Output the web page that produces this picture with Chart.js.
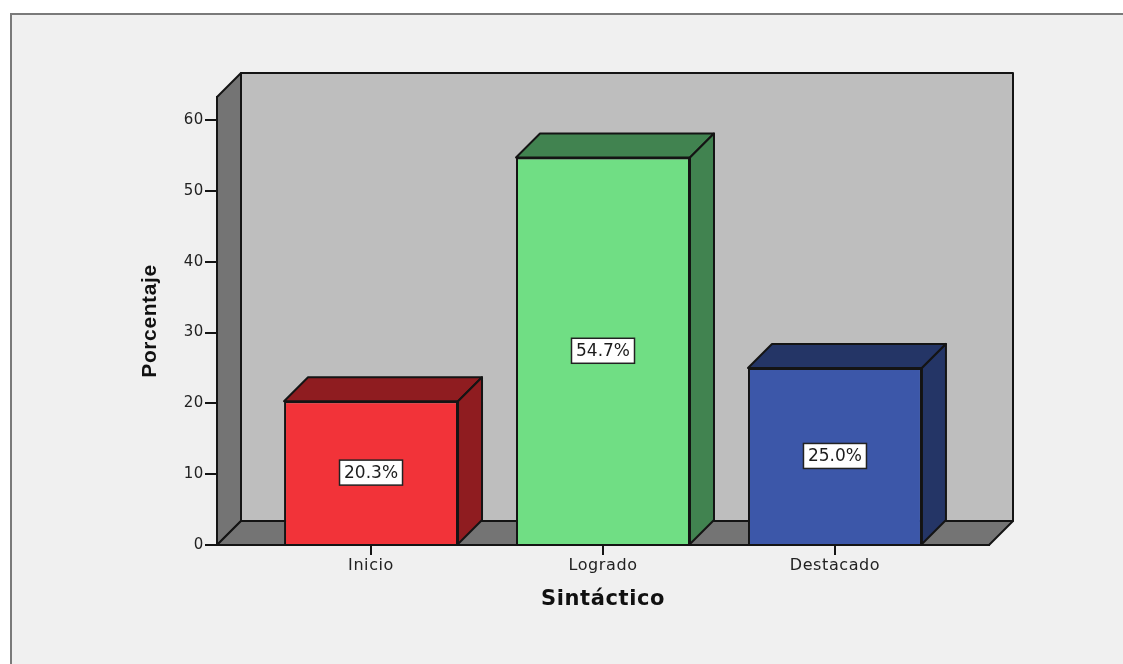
<!DOCTYPE html>
<html>
<head>
<meta charset="utf-8">
<title>Sintáctico</title>
<script src="https://cdn.jsdelivr.net/npm/chart.js@4"></script>
<style>
    html, body { margin: 0; padding: 0; background: #fff; overflow: hidden; }
    #wrap { position: relative; width: 1123px; height: 664px; }
    #frame { position: absolute; left: 10px; top: 13px; right: 0; bottom: 0; background: #f0f0f0; border-top: 2px solid #7a7a7a; border-left: 2px solid #7a7a7a; }
    canvas { position: absolute; left: 0; top: 0; }
</style>
</head>
<body>
<div id="wrap">
    <div id="frame"></div>
    <canvas id="chart" width="1123" height="664"></canvas>
</div>
<script>
var categorias = ['Inicio', 'Logrado', 'Destacado'];
var porcentajes = [20.3, 54.7, 25.0];
var yTicks = [0, 10, 20, 30, 40, 50, 60];

var frontColors = ['#f23339', '#70de84', '#3c57a9'];
var sideColors = ['#8f1c20', '#418350', '#243566'];
var depth = 24;
var inkColor = '#141414';

function poly(ctx, pts, fill) {
    ctx.beginPath();
    ctx.moveTo(pts[0][0], pts[0][1]);
    for (var i = 1; i < pts.length; i++) ctx.lineTo(pts[i][0], pts[i][1]);
    ctx.closePath();
    ctx.fillStyle = fill;
    ctx.fill();
    ctx.strokeStyle = inkColor;
    ctx.lineWidth = 2;
    ctx.lineJoin = 'round';
    ctx.stroke();
}

// widen text a little, the reference glyphs are stretched
function setSpacing(chart) {
    chart.ctx.letterSpacing = '0.6px';
}

var box3d = {
    id: 'box3d',
    beforeLayout: setSpacing,
    beforeDraw: setSpacing,
    beforeDatasetsDraw: function(chart) {
        var ctx = chart.ctx;
        var a = chart.chartArea;
        var d = depth;
        ctx.save();
        // back wall, left wall, floor
        poly(ctx, [[a.left + d, a.top - d], [a.right + d, a.top - d], [a.right + d, a.bottom - d], [a.left + d, a.bottom - d]], '#bebebe');
        poly(ctx, [[a.left, a.top], [a.left + d, a.top - d], [a.left + d, a.bottom - d], [a.left, a.bottom]], '#747474');
        poly(ctx, [[a.left, a.bottom], [a.left + d, a.bottom - d], [a.right + d, a.bottom - d], [a.right, a.bottom]], '#747474');
        // top and side of each bar
        chart.getDatasetMeta(0).data.forEach(function(bar, i) {
            var l = bar.x - bar.width / 2;
            var r = bar.x + bar.width / 2;
            poly(ctx, [[l, bar.y], [l + d, bar.y - d], [r + d, bar.y - d], [r, bar.y]], sideColors[i]);
            poly(ctx, [[r, bar.y], [r + d, bar.y - d], [r + d, bar.base - d], [r, bar.base]], sideColors[i]);
        });
        ctx.restore();
    },
    afterDatasetsDraw: function(chart) {
        var ctx = chart.ctx;
        ctx.save();
        ctx.font = '17px "DejaVu Sans"';
        ctx.letterSpacing = '0px';
        ctx.textAlign = 'center';
        ctx.textBaseline = 'middle';
        chart.getDatasetMeta(0).data.forEach(function(bar, i) {
            var cy = (bar.y + bar.base) / 2;
            var w = 63, h = 25;
            ctx.fillStyle = '#fff';
            ctx.strokeStyle = '#222';
            ctx.lineWidth = 1.5;
            ctx.fillRect(bar.x - w / 2, cy - h / 2, w, h);
            ctx.strokeRect(bar.x - w / 2, cy - h / 2, w, h);
            ctx.fillStyle = '#1c1c1c';
            ctx.fillText(porcentajes[i].toFixed(1) + '%', bar.x, cy + 1);
        });
        ctx.restore();
    }
};

new Chart(document.getElementById('chart').getContext('2d'), {
    type: 'bar',
    data: {
        datasets: [{
            data: porcentajes.map(function(v, i) { return { x: i, y: v }; }),
            backgroundColor: frontColors,
            borderColor: inkColor,
            borderWidth: 2,
            categoryPercentage: 1,
            barPercentage: 0.75
        }]
    },
    plugins: [box3d],
    options: {
        responsive: false,
        animation: false,
        layout: { padding: { top: 97, right: 134, left: 0, bottom: 0 } },
        plugins: { legend: { display: false }, tooltip: { enabled: false } },
        scales: {
            x: {
                type: 'linear',
                offset: false,
                min: -0.664,
                max: 2.664,
                afterBuildTicks: function(scale) {
                    scale.ticks = categorias.map(function(c, i) { return { value: i }; });
                },
                afterFit: function(scale) { scale.height = 119; },
                grid: { offset: false, drawOnChartArea: false, color: inkColor, lineWidth: 2, tickLength: 10 },
                border: { color: inkColor, width: 2 },
                ticks: {
                    autoSkip: false,
                    maxRotation: 0,
                    padding: 1,
                    color: '#222',
                    font: { family: '"DejaVu Sans"', size: 16 },
                    callback: function(v) { return categorias[v]; }
                },
                title: {
                    display: true,
                    text: 'Sintáctico',
                    color: '#111',
                    font: { family: '"DejaVu Sans"', size: 21, weight: 'bold' },
                    padding: { top: 10, bottom: 52 }
                }
            },
            y: {
                min: 0,
                max: 63.25,
                afterBuildTicks: function(scale) {
                    scale.ticks = yTicks.map(function(v) { return { value: v }; });
                },
                afterFit: function(scale) { scale.width = 217; },
                grid: { drawOnChartArea: false, color: inkColor, lineWidth: 2, tickLength: 12 },
                border: { color: inkColor, width: 2 },
                ticks: {
                    padding: 1,
                    color: '#222',
                    font: { family: '"DejaVu Sans"', size: 15 }
                },
                title: {
                    display: true,
                    text: 'Porcentaje',
                    color: '#111',
                    font: { family: '"Liberation Sans"', size: 21, weight: 'bold' },
                    padding: { top: 138, bottom: 0 }
                }
            }
        }
    }
});
</script>
</body>
</html>
